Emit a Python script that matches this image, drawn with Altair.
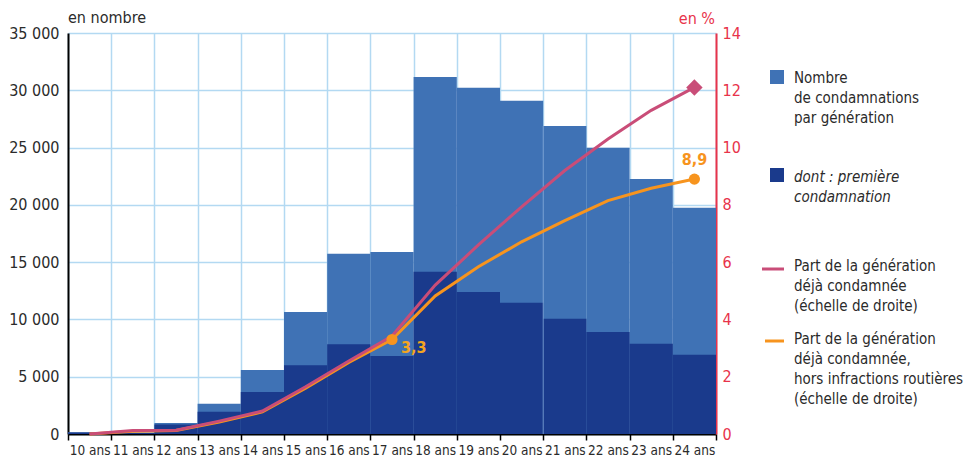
import altair as alt
import pandas as pd

ages = ["10 ans", "11 ans", "12 ans", "13 ans", "14 ans", "15 ans", "16 ans", "17 ans",
        "18 ans", "19 ans", "20 ans", "21 ans", "22 ans", "23 ans", "24 ans"]
total = [150, 120, 950, 2640, 5580, 10650, 15730, 15880, 31150, 30220, 29080, 26880, 24980, 22250, 19750]
first = [140, 100, 820, 1950, 3660, 6000, 7830, 6800, 14160, 12390, 11460, 10060, 8900, 7880, 6920]
part = [0, 0.12, 0.13, 0.45, 0.8, 1.65, 2.55, 3.42, 5.2, 6.6, 7.93, 9.2, 10.3, 11.3, 12.1]
part_hors = [0, 0.1, 0.12, 0.42, 0.77, 1.6, 2.5, 3.3, 4.82, 5.84, 6.71, 7.45, 8.15, 8.58, 8.9]
labelled_ages = ["17 ans", "24 ans"]

FONT = "Liberation Sans Narrow, DejaVu Sans Condensed, Roboto, sans-serif"
LIGHT = "#3F72B5"
DARK = "#1A3A8C"
PINK = "#C94D78"
ORANGE = "#F7941E"
RED = "#E8334A"
GRID = "#B3D9F2"
TXT = "#2B2B2B"

df = pd.DataFrame({"age": ages, "total": total, "first": first,
                   "part": part, "hors": part_hors})

base = alt.Chart(df)
xenc = alt.X("age:N", sort=ages, scale=alt.Scale(paddingInner=0, paddingOuter=0),
             axis=alt.Axis(title=None, labelAngle=0, tickBand="extent", ticks=True,
                           tickColor="black", tickSize=6, tickWidth=1.5,
                           domainColor="black", domainWidth=2, grid=True,
                           gridColor=GRID, gridWidth=1.5, labelFontSize=13.5,
                           labelColor=TXT, labelPadding=3, labelFont=FONT))
xs = alt.X("age:N", sort=ages)

light = base.mark_bar(color=LIGHT).encode(
    x=xenc,
    y=alt.Y("total:Q", scale=alt.Scale(domain=[0, 35000]),
            axis=alt.Axis(title=None, orient="left", values=list(range(0, 35001, 5000)),
                          labelExpr="replace(format(datum.value, ','), ',', ' ')",
                          ticks=False, domainColor="black", domainWidth=2,
                          gridColor=GRID, gridWidth=1.5, labelFontSize=16,
                          labelColor=TXT, labelPadding=9, labelFont=FONT)))
dark = base.mark_bar(color=DARK).encode(x=xs, y=alt.Y("first:Q"))
seam = base.transform_filter(alt.FieldEqualPredicate(field="age", equal="21 ans")).mark_rule(
    color="#7FA6D6", strokeWidth=1, opacity=0.8).encode(
    x=alt.X("age:N", sort=ages, bandPosition=0), y=alt.Y("total:Q"), y2=alt.value(401))
bars = alt.layer(light, dark, seam)

yr = alt.Y("hors:Q", scale=alt.Scale(domain=[0, 14]),
           axis=alt.Axis(title=None, orient="right", values=list(range(0, 15, 2)),
                         ticks=False, grid=False, domainColor=RED, domainWidth=2,
                         labelColor=RED, labelFontSize=16, labelPadding=6, labelFont=FONT))
orange_line = base.mark_line(color=ORANGE, strokeWidth=3).encode(x=xs, y=yr)
pink_line = base.mark_line(color=PINK, strokeWidth=3).encode(x=xs, y=alt.Y("part:Q"))
orange_pts = base.transform_filter(
    alt.FieldOneOfPredicate(field="age", oneOf=labelled_ages)
).mark_circle(color=ORANGE, size=125, opacity=1).encode(x=xs, y=alt.Y("hors:Q"))
pink_pt = base.transform_filter(
    alt.FieldEqualPredicate(field="age", equal="24 ans")
).mark_point(shape="diamond", filled=True, color=PINK, size=270, opacity=1).encode(
    x=xs, y=alt.Y("part:Q"))
lab_expr = "replace(format(datum.hors, '.1f'), '.', ',')"
lab17 = base.transform_filter(alt.FieldEqualPredicate(field="age", equal="17 ans")).transform_calculate(
    lab=lab_expr).mark_text(align="left", baseline="middle", dx=9, dy=9, fontSize=16,
                            fontWeight="bold", color="#F4A51F", font=FONT).encode(
    x=xs, y=alt.Y("hors:Q"), text="lab:N")
lab24 = base.transform_filter(alt.FieldEqualPredicate(field="age", equal="24 ans")).transform_calculate(
    lab=lab_expr).mark_text(align="center", baseline="middle", dy=-19, fontSize=16,
                            fontWeight="bold", color=ORANGE, font=FONT).encode(
    x=xs, y=alt.Y("hors:Q"), text="lab:N")
lines = alt.layer(orange_line, pink_line, orange_pts, pink_pt, lab17, lab24)

one = alt.Data(values=[{"k": 1}])


def txt(lines_, x, y, color=TXT, align="left", italic=False, size=15):
    kw = dict(align=align, baseline="middle", fontSize=size, color=color, font=FONT,
              lineHeight=20)
    if italic:
        kw["fontStyle"] = "italic"
    return alt.Chart(one).mark_text(**kw).encode(
        x=alt.value(x), y=alt.value(y), text=alt.value(lines_))


leg = [
    txt("en nombre", 0, -15, size=16),
    txt("en %", 647, -14, color=RED, align="right", size=16),
    alt.Chart(one).mark_square(color=LIGHT, size=196, opacity=1).encode(
        x=alt.value(709), y=alt.value(44)),
    txt(["Nombre", "de condamnations", "par génération"], 726, 45),
    alt.Chart(one).mark_square(color=DARK, size=196, opacity=1).encode(
        x=alt.value(709), y=alt.value(142)),
    txt(["dont : première", "condamnation"], 726, 144, italic=True),
    alt.Chart(one).mark_rule(color=PINK, strokeWidth=3).encode(
        x=alt.value(694), x2=alt.value(716), y=alt.value(236)),
    txt(["Part de la génération", "déjà condamnée", "(échelle de droite)"], 726, 233),
    alt.Chart(one).mark_rule(color=ORANGE, strokeWidth=3).encode(
        x=alt.value(697), x2=alt.value(716), y=alt.value(308)),
    txt(["Part de la génération", "déjà condamnée,", "hors infractions routières",
         "(échelle de droite)"], 726, 306),
]

chart = alt.layer(bars, lines).resolve_scale(y="independent")
chart = alt.layer(chart, *leg).properties(
    width=648, height=401,
    autosize=alt.AutoSizeParams(type="none"),
    padding={"left": 60, "top": 25, "right": 248, "bottom": 25},
).configure_view(stroke=None)

chart.save("out.html", embed_options={"renderer": "svg", "actions": False})
